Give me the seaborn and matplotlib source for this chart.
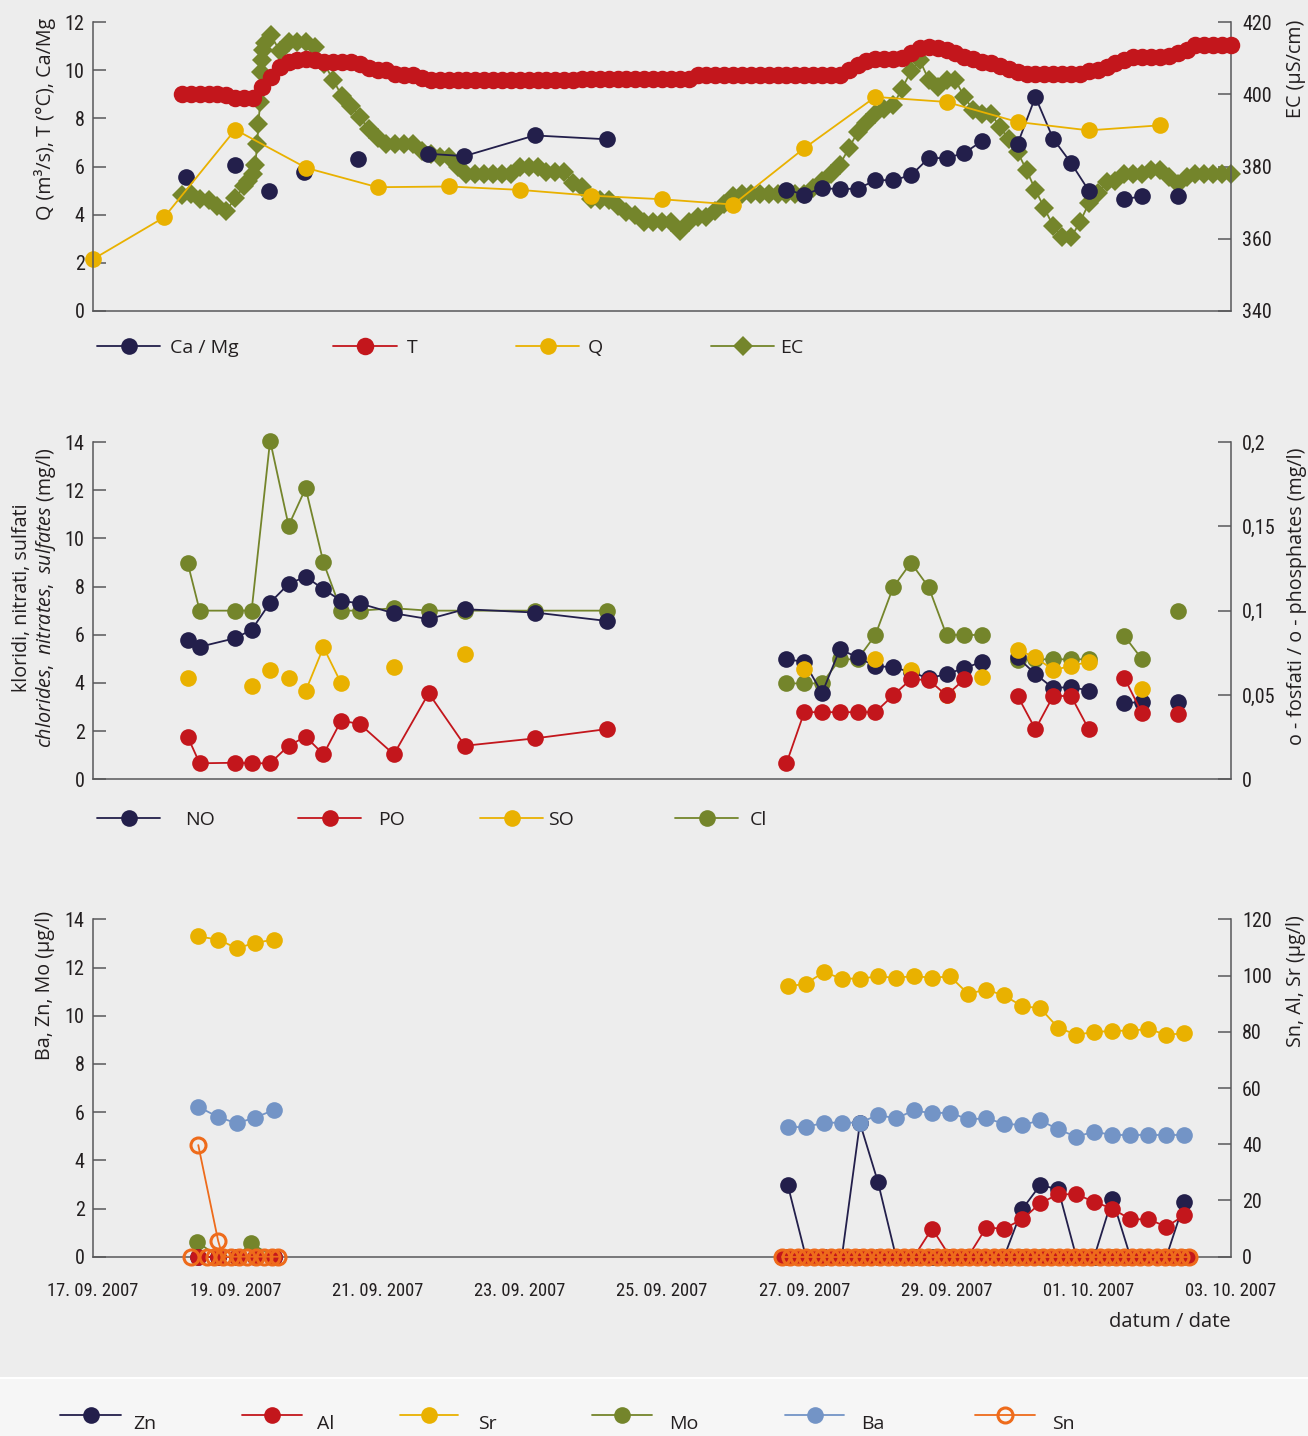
import numpy as np
import pandas as pd
import matplotlib
matplotlib.use("Agg")
import matplotlib.pyplot as plt
import matplotlib.dates as mdates
from matplotlib import font_manager as fm
from matplotlib.lines import Line2D
from matplotlib.patches import Rectangle
from matplotlib.transforms import ScaledTranslation
from matplotlib.ticker import FixedLocator, MultipleLocator, FuncFormatter
import seaborn as sns

NaN = np.nan
START = pd.Timestamp("2007-09-17")          # day 0 of the time axis

# ---------------------------------------------------------------- panel 1
# daily discharge Q (m3/s), day offsets from 17.09.2007
q_days = [0, 1, 2, 3, 4, 5, 6, 7, 8, 9, 10, 11, 12, 13, 14, 15]
q_vals = [2.15, 3.89, 7.53, 5.94, 5.14, 5.17, 5.03, 4.79, 4.64, 4.42,
          6.76, 8.89, 8.68, 7.85, 7.50, 7.71]

# Ca/Mg ratio, first sampling campaign (NaN = break in the line)
camg_a_days = [1.31, NaN, 1.99, NaN, 2.48, NaN, 2.97, NaN, 3.72, NaN, 4.71, 5.22, 6.21, 7.22]
camg_a_vals = [5.56, NaN, 6.07, NaN, 4.97, NaN, 5.78, NaN, 6.32, NaN, 6.53, 6.43, 7.29, 7.13]
# second campaign, 6-hourly from 26.09. 18:00
camg_b_vals = [5.04, 4.83, 5.10, 5.06, 5.08, 5.42, 5.44, 5.63, 6.35, 6.35, 6.56, 7.06,
               NaN, 6.94, 8.89, 7.15, 6.15, 5.00, NaN, 4.65, 4.76, NaN, 4.76]

# water temperature T (degC), 3-hourly from 18.09. 06:00
t_vals = [9.0, 9.0, 9.0, 9.0, 9.0, 8.95, 8.85, 8.85, 8.85, 9.3,
          9.72, 10.15, 10.35, 10.42, 10.45, 10.42, 10.35, 10.33, 10.33, 10.33,
          10.25, 10.1, 10.0, 10.0, 9.85, 9.8, 9.8, 9.68,
          9.6, 9.6, 9.6, 9.6, 9.6, 9.6, 9.6, 9.6, 9.6, 9.6, 9.6, 9.6, 9.6, 9.6, 9.6, 9.6, 9.6,
          9.65, 9.65, 9.65, 9.65, 9.65, 9.65, 9.65, 9.65, 9.65, 9.65, 9.65, 9.65, 9.65,
          9.8, 9.8, 9.8, 9.8, 9.8, 9.8, 9.8, 9.8, 9.8, 9.8, 9.8, 9.8, 9.8, 9.8, 9.8, 9.8, 9.8,
          10.0, 10.2, 10.4, 10.45, 10.45, 10.45, 10.5, 10.7, 10.92, 10.95,
          10.92, 10.83, 10.7, 10.55, 10.45, 10.35, 10.28, 10.18, 10.05, 9.92,
          9.83, 9.83, 9.83, 9.83, 9.83, 9.83, 9.83,
          9.95, 10.0, 10.15, 10.3, 10.42, 10.55, 10.56, 10.56, 10.56, 10.6,
          10.7, 10.85, 11.04, 11.04, 11.04, 11.04, 11.04]

# electrical conductivity EC (uS/cm): 3-hourly, denser during the flood rise
ec_a_vals = [372.0, 372.4, 371.0, 370.6, 369.2, 367.8, 371.3, 374.5]
ec_rise_days = [2.184, 2.254, 2.278, 2.31, 2.324, 2.352, 2.362, 2.372, 2.394, 2.418]
ec_rise_vals = [376.1, 378.0, 380.3, 386.1, 391.9, 397.9, 406.2, 409.4, 412.2, 414.1]
ec_b_vals = [416.4, 412.0, 414.5, 414.5, 414.5, 413.0, 408.5, 404.0, 399.5, 396.8,
             393.8, 390.3, 387.8, 386.3, 386.3, 386.3, 386.3, 384.4, 383.5, 382.6,
             382.6, 380.0, 377.8, 377.8, 377.8, 377.8, 377.8, 377.8, 380.0, 380.0,
             380.0, 378.5, 378.5, 378.5, 375.5, 374.3, 371.0, 370.6, 370.6, 369.0,
             367.3, 366.5, 364.5, 364.5, 364.5, 364.5, 362.2, 364.5, 365.9, 365.9,
             367.8, 369.7, 371.9, 372.4, 372.4, 372.4, 372.4, 372.4, 372.4, 372.4,
             372.4, 374.0, 376.1, 378.0, 380.5, 385.0, 389.5, 392.0, 394.5, 396.0,
             397.0, 401.5, 406.5, 409.4, 404.0, 402.0, 403.9, 403.9, 399.3, 395.6,
             394.6, 394.6, 391.0, 387.5, 384.0, 379.0, 373.5, 368.5, 363.5, 360.4,
             360.4, 364.5, 369.8, 372.6, 375.6, 376.1, 378.0, 378.0, 378.0, 378.9,
             378.9, 377.0, 375.2, 377.0, 378.0, 378.0, 378.0, 378.0, 378.0]

# ---------------------------------------------------------------- panel 2
mid_a_days = [1.33, 1.50, 1.99, 2.23, 2.49, 2.75, 2.99, 3.24, 3.49, 3.75, 4.23, 4.72, 5.23, 6.22, 7.23]
cl_a = [8.99, 7.0, 7.0, 7.0, 14.06, 10.53, 12.08, 9.0, 7.0, 7.0, 7.1, 7.0, 7.0, 7.0, 7.0]
no_a = [5.78, 5.5, 5.85, 6.2, 7.33, 8.11, 8.41, 7.89, 7.41, 7.3, 6.89, 6.65, 7.06, 6.92, 6.57]
po_a = [0.0253, 0.0095, 0.0098, 0.0095, 0.0095, 0.0199, 0.0253, 0.0148, 0.0348, 0.0328,
        0.0148, 0.051, 0.0199, 0.0243, 0.0298]
so_a_days = [1.33, NaN, 2.23, NaN, 2.49, NaN, 2.75, NaN, 2.99, 3.24, 3.49, NaN, 4.23, NaN, 5.23]
so_a = [4.22, NaN, 3.89, NaN, 4.54, NaN, 4.19, NaN, 3.67, 5.48, 3.98, NaN, 4.67, NaN, 5.19]
# second campaign, same 6-hourly grid as Ca/Mg
cl_b = [3.98, 3.98, 3.98, 4.98, 4.98, 5.99, 7.97, 8.99, 7.97, 5.99, 5.99, 5.99,
        NaN, 4.95, 4.98, 4.98, 4.98, 4.98, NaN, 5.95, 4.98, NaN, 6.97]
no_b = [4.98, 4.88, 3.57, 5.40, 5.06, 4.70, 4.65, 4.45, 4.19, 4.37, 4.61, 4.88,
        NaN, 5.06, 4.37, 3.78, 3.84, 3.68, NaN, 3.15, 3.22, NaN, 3.22]
so_b = [NaN, 4.57, NaN, NaN, NaN, 4.99, NaN, 4.54, NaN, 3.49, NaN, 4.26,
        NaN, 5.37, 5.06, 4.54, 4.70, 4.88, NaN, NaN, 3.74, NaN, NaN]
po_b = [0.0095, 0.0398, 0.0398, 0.0398, 0.0398, 0.0398, 0.0498, 0.0593, 0.0589, 0.0498, 0.0593, NaN,
        NaN, 0.0494, 0.0297, 0.0494, 0.0494, 0.0297, NaN, 0.0602, 0.0391, NaN, 0.0385]

# ---------------------------------------------------------------- panel 3
metal_a_days = [1.476, 1.762, 2.02, 2.278, 2.545]
sr_a = [113.9, 112.8, 109.7, 111.6, 112.8]
ba_a = [6.23, 5.79, 5.54, 5.77, 6.09]
zn_a = [0.0, 0.0, 0.0, 0.0, 0.0]
al_a = [0.0, 0.0, 0.0, 0.0, 0.0]
mo_a_days = [1.46, 1.76, 2.02, 2.22, 2.54]
mo_a = [0.62, 0.0, 0.0, 0.55, 0.0]
sn_a_days = [1.48, 1.76, 1.825, 1.935, 2.05, 2.17, 2.29, 2.40, 2.52, 2.605]
sn_a = [39.7, 5.6, 0.0, 0.0, 0.0, 0.0, 0.0, 0.0, 0.0, 0.0]
sn_a_extra_days = [1.375, NaN, 1.60, NaN, 1.705]
sn_a_extra = [0.0, NaN, 0.0, NaN, 0.0]
# second campaign (sampling roughly every 6 h from 26.09. 18:27)
sr_b = [96.1, 97.1, 101.2, 98.9, 98.9, 99.7, 99.2, 99.8, 99.2, 99.7, 93.5, 95.0,
        92.9, 89.1, 88.4, 81.4, 79.0, 79.9, 80.3, 80.4, 81.0, 78.9, 79.5]
ba_b = [5.38, 5.38, 5.56, 5.56, 5.56, 5.88, 5.74, 6.07, 5.95, 5.98, 5.70, 5.74,
        5.52, 5.46, 5.66, 5.28, 4.98, 5.19, 5.05, 5.05, 5.05, 5.05, 5.05]
zn_b = [2.97, 0.0, 0.0, 0.0, 5.55, 3.10, 0.0, 0.0, 0.0, 0.0, 0.0, 0.0,
        0.0, 1.97, 2.97, 2.80, 0.0, 0.0, 2.41, 0.0, 0.0, 0.0, 2.27]
al_b = [0.0, 0.0, 0.0, 0.0, 0.0, 0.0, 0.0, 0.0, 10.0, 0.0, 0.0, 10.3,
        10.0, 13.3, 19.0, 22.2, 22.2, 19.5, 17.1, 13.3, 13.3, 10.7, 14.7]
mo_b = [0.0] * 23
# dense below-detection readings of the second campaign
al_b_bdl = [0.0] * 51
sn_b = [0.0] * 51

# ---------------------------------------------------------------- style
NAVY, RED, YELLOW = "#231f4b", "#c3161c", "#e9b100"
OLIVE, BLUE, ORANGE = "#74852b", "#7394c6", "#ee6b1b"
INK, AXIS, BG, BAND = "#231f20", "#58585a", "#ededed", "#f6f6f6"
MS, TMS, DMS, LW = 12.0, 12.6, 9.8, 1.3
SN_STYLE = dict(mfc="none", mew=2.2, ms=10.8)

sns.set_style("white")
plt.rcParams.update({
    "font.family": ["Open Sans", "DejaVu Sans"],
    "mathtext.fontset": "custom",
    "mathtext.rm": "Open Sans",
    "mathtext.it": "Open Sans:italic",
    "figure.facecolor": BG,
    "savefig.facecolor": BG,
    "text.color": INK,
})


def condensed_font():
    """A narrow sans face for the numbers on the axes, if one is installed."""
    wanted = ["Liberation Sans Narrow", "Roboto Condensed", "Open Sans Condensed",
              "Noto Sans Condensed", "DejaVu Sans Condensed", "Arial Narrow", "Nimbus Sans Narrow"]
    entries = fm.fontManager.ttflist
    names = {f.name for f in entries}
    for w in wanted:
        if w in names:
            return fm.FontProperties(family=w)
    for f in entries:
        path = f.fname.lower()
        if (("condensed" in path or "narrow" in path) and "bold" not in path
                and "italic" not in path and "oblique" not in path
                and "mono" not in path and "serif" not in path and "light" not in path
                and "semi" not in path and "extra" not in path and "thin" not in path
                and "black" not in path and "medium" not in path):
            return fm.FontProperties(fname=f.fname)
    return None


NARROW = condensed_font()
if NARROW is not None:
    NUM_FP = NARROW.copy()
    NUM_FP.set_size(14.5)
    DATE_FP = NARROW.copy()
    DATE_FP.set_size(13.3)
    DATE_FMT = "%d. %m. %Y"
else:
    NUM_FP = fm.FontProperties(family="Liberation Sans", size=14)
    DATE_FP = fm.FontProperties(family="Liberation Sans", size=12.5)
    DATE_FMT = "%d.\u2009%m.\u2009%Y"

D0 = mdates.date2num(START)


def at(days):
    return D0 + np.asarray(days, dtype=float)


def every(first, freq, n):
    return mdates.date2num(pd.date_range(first, periods=n, freq=freq))


grid_b = every("2007-09-26 18:00", "6h", 23)
metal_b_t = every("2007-09-26 18:27", "365min", 23)
dense_b_t = every("2007-09-26 16:24", "165min", len(sn_b))
t_t = every("2007-09-18 06:00", "3h", len(t_vals))
ec_t = np.concatenate([every("2007-09-18 06:00", "3h", len(ec_a_vals)),
                       at(ec_rise_days),
                       every("2007-09-19 12:00", "3h", len(ec_b_vals))])
ec_vals = np.concatenate([ec_a_vals, ec_rise_vals, ec_b_vals])


def draw(ax, x, vals, color, marker="o", ms=MS, mfc=None, mew=0.0, lw=LW):
    """Line with markers; NaN entries break the line."""
    x = np.asarray(x, dtype=float)
    y = np.asarray(vals, dtype=float)
    idx = np.flatnonzero(np.isfinite(x) & np.isfinite(y))
    if idx.size == 0:
        return
    for run in np.split(idx, np.flatnonzero(np.diff(idx) > 1) + 1):
        sns.lineplot(x=x[run], y=y[run], ax=ax, color=color, linewidth=lw,
                     marker=marker, markersize=ms,
                     markerfacecolor=color if mfc is None else mfc,
                     markeredgecolor=color, markeredgewidth=mew,
                     estimator=None, sort=False, legend=False, clip_on=False)


W, H, DPI = 1308, 1436, 100
X0, X1 = 93, 1231
fig = plt.figure(figsize=(W / DPI, H / DPI), dpi=DPI)
fig.add_artist(Rectangle((0, 0), 1, 58 / H, transform=fig.transFigure,
                         facecolor=BAND, edgecolor="none", zorder=-5))
fig.add_artist(Line2D([0, 1], [58 / H, 58 / H], transform=fig.transFigure,
                      color="white", lw=1.5, zorder=-4))


def frame(top, bottom):
    ax = fig.add_axes([X0 / W, 1 - bottom / H, (X1 - X0) / W, (bottom - top) / H])
    axr = ax.twinx()
    return ax, axr


ax1, ax1r = frame(22, 311)
ax2, ax2r = frame(442, 779.3)
ax3, ax3r = frame(919.3, 1256.7)

# panel 1: conductivity underneath the left-axis series
ax1.set_zorder(2)
ax1r.set_zorder(1)
draw(ax1r, ec_t, ec_vals, OLIVE, marker="D", ms=DMS)
draw(ax1, t_t, t_vals, RED, ms=TMS)
draw(ax1, at(camg_a_days), camg_a_vals, NAVY)
draw(ax1, grid_b, camg_b_vals, NAVY)
draw(ax1, at(q_days), q_vals, YELLOW)

# panel 2
draw(ax2, at(mid_a_days), cl_a, OLIVE)
draw(ax2, grid_b, cl_b, OLIVE)
draw(ax2, at(mid_a_days), no_a, NAVY)
draw(ax2, grid_b, no_b, NAVY)
draw(ax2, at(so_a_days), so_a, YELLOW)
draw(ax2, grid_b, so_b, YELLOW)
draw(ax2r, at(mid_a_days), po_a, RED)
draw(ax2r, grid_b, po_b, RED)

# panel 3
draw(ax3, at(mo_a_days), mo_a, OLIVE)
draw(ax3, metal_b_t, mo_b, OLIVE)
draw(ax3, at(metal_a_days), zn_a, NAVY)
draw(ax3, metal_b_t, zn_b, NAVY)
draw(ax3, at(metal_a_days), ba_a, BLUE)
draw(ax3, metal_b_t, ba_b, BLUE)
draw(ax3r, dense_b_t, al_b_bdl, RED)
draw(ax3r, at(metal_a_days), al_a, RED)
draw(ax3r, metal_b_t, al_b, RED)
draw(ax3r, at(sn_a_extra_days), sn_a_extra, ORANGE, **SN_STYLE)
draw(ax3r, at(sn_a_days), sn_a, ORANGE, **SN_STYLE)
draw(ax3r, dense_b_t, sn_b, ORANGE, **SN_STYLE)
draw(ax3r, at(metal_a_days), sr_a, YELLOW)
draw(ax3r, metal_b_t, sr_b, YELLOW)

# ---------------------------------------------------------------- axes
tick_days = at(np.arange(0, 17, 2))


def style_pair(ax, axr, ylim, ystep, rlim, rticks, labels_on):
    for a in (ax, axr):
        a.patch.set_visible(False)
        for s in a.spines.values():
            s.set_color(AXIS)
            s.set_linewidth(1.1)
        a.spines["top"].set_visible(False)
    ax.spines["right"].set_visible(False)
    axr.spines["left"].set_visible(False)
    axr.spines["bottom"].set_visible(False)
    ax.set_xlim(D0, D0 + 16)
    ax.set_ylim(*ylim)
    axr.set_ylim(*rlim)
    ax.yaxis.set_major_locator(MultipleLocator(ystep))
    axr.yaxis.set_major_locator(FixedLocator(rticks))
    ax.xaxis.set_major_locator(FixedLocator(tick_days))
    ax.xaxis.set_major_formatter(mdates.DateFormatter(DATE_FMT))
    ax.set_xlabel("")
    ax.tick_params(axis="x", direction="in", length=9.5, width=1.1, color=AXIS,
                   pad=18, labelbottom=labels_on, top=False, labelcolor=INK)
    ax.tick_params(axis="y", direction="in", length=9.5, width=1.1, color=AXIS,
                   pad=6, right=False, labelcolor=INK)
    axr.tick_params(axis="y", direction="in", length=9.5, width=1.1, color=AXIS,
                    pad=8, left=False, labelcolor=INK)


style_pair(ax1, ax1r, (0, 12), 2, (340, 420), [340, 360, 380, 400, 420], False)
style_pair(ax2, ax2r, (0, 14), 2, (0, 0.2), [0, 0.05, 0.1, 0.15, 0.2], False)
style_pair(ax3, ax3r, (0, 14), 2, (0, 120), [0, 20, 40, 60, 80, 100, 120], True)
ax2r.yaxis.set_major_formatter(
    FuncFormatter(lambda v, p: f"{v:.2f}".rstrip("0").rstrip(".").replace(".", ",")))
for ax, axr in ((ax1, ax1r), (ax2, ax2r), (ax3, ax3r)):
    for lab in ax.get_yticklabels() + axr.get_yticklabels():
        lab.set_fontproperties(NUM_FP)
    for lab in ax.get_xticklabels():
        lab.set_fontproperties(DATE_FP)

LABEL_FS = 14.2


def ylabel(axis_owner, text, x_px, y_px, va):
    lab = axis_owner.set_ylabel(text, fontsize=LABEL_FS, color=INK, linespacing=1.15)
    axis_owner.yaxis.set_label_coords(x_px / W, 1 - y_px / H, transform=fig.transFigure)
    lab.set_rotation(90)
    lab.set_rotation_mode("default")
    lab.set_horizontalalignment("center")
    lab.set_verticalalignment(va)
    lab.set_multialignment("center")


ylabel(ax1, "Q (m³/s), T (°C), Ca/Mg", 45, 18, "top")
ylabel(ax1r, "EC (µS/cm)", 1296, 20, "top")
ylabel(ax2, "kloridi, nitrati, sulfati\n"
            r"$\mathit{chlorides,\ nitrates,\ sulfates}$ (mg/l)", 35, 598, "center")
ylabel(ax2r, "o - fosfati / o - phosphates (mg/l)", 1297, 596, "center")
ylabel(ax3, "Ba, Zn, Mo (µg/l)", 45, 911, "top")
ylabel(ax3r, "Sn, Al, Sr (µg/l)", 1296, 915, "top")
for a in (ax1r, ax2r, ax3r):
    a.set_xlabel("")

fig.text(X1 / W, 1 - 1322 / H, "datum / date", ha="right", va="center",
         fontsize=14.5, color=INK)

# ---------------------------------------------------------------- legends
LEG_FS = 14
EM = LEG_FS * DPI / 72


def entry(x_px, y_px, label, color, hl_px, pad_px, marker="o", ms=MS, mfc=None, mew=0.0,
          text_drop_px=0):
    h = Line2D([], [], color=color, lw=LW, marker=marker, markersize=ms,
               markerfacecolor=color if mfc is None else mfc,
               markeredgecolor=color, markeredgewidth=mew)
    leg = fig.legend([h], [label], loc="center left", bbox_to_anchor=(x_px / W, 1 - y_px / H),
                     frameon=False, borderpad=0, borderaxespad=0, numpoints=1,
                     handlelength=hl_px / EM, handletextpad=pad_px / EM,
                     fontsize=LEG_FS, labelcolor=INK)
    if text_drop_px:
        for t in leg.get_texts():
            t.set_transform(t.get_transform()
                            + ScaledTranslation(0, -text_drop_px / DPI, fig.dpi_scale_trans))


entry(97, 348, "Ca / Mg", NAVY, 63, 10)
entry(333, 348, "T", RED, 64, 10, ms=TMS)
entry(516, 348, "Q", YELLOW, 63, 9)
entry(711, 348, "EC", OLIVE, 63, 6, marker="D", ms=DMS)

entry(97, 820, "NO", NAVY, 63, 25)
entry(298, 820, "PO", RED, 63, 17)
entry(480, 820, "SO", YELLOW, 63, 5)
entry(675, 820, "Cl", OLIVE, 63, 12)

entry(60, 1417, "Zn", NAVY, 61, 12, text_drop_px=7)
entry(242, 1417, "Al", RED, 60, 15, text_drop_px=7)
entry(400, 1417, "Sr", YELLOW, 58, 20, text_drop_px=7)
entry(592, 1417, "Mo", OLIVE, 60, 17, text_drop_px=7)
entry(785, 1417, "Ba", BLUE, 59, 17, text_drop_px=7)
entry(975, 1417, "Sn", ORANGE, 60, 17, text_drop_px=7, **SN_STYLE)

fig.savefig("out.png", dpi=DPI)
